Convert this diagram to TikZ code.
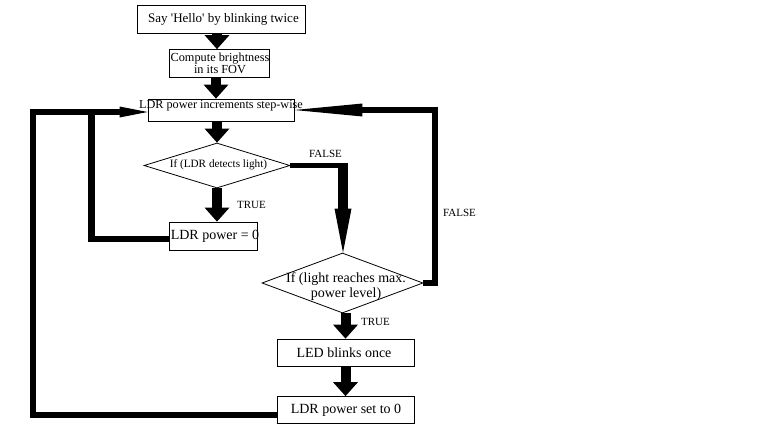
\documentclass[tikz,border=0pt]{standalone}
\usepackage{fontspec}
\setmainfont{Liberation Serif}
\usetikzlibrary{shapes.geometric,arrows.meta}
\begin{document}
\begin{tikzpicture}[x=1pt,y=-1pt,
  box/.style={draw,line width=0.8pt,inner sep=0pt,rectangle},
  dia/.style={draw,line width=0.8pt,inner sep=0pt,diamond},
  txt/.style={inner sep=0pt,align=center,font=\fontsize{13}{15}\selectfont},
  lbl/.style={inner sep=0pt,font=\fontsize{11}{13}\selectfont},
  blk/.style={line width=10pt,-{Triangle[width=25pt,length=14pt,line width=0pt]}},
  thickline/.style={line width=6pt,line join=miter}]
\fill[white] (0,0) rectangle (768,431);
\useasboundingbox (0,0) rectangle (768,431);

% boxes
\node[box,minimum width=168pt,minimum height=28pt] (b1) at (221,19) {};
\node[txt] (t1) at (223.5,19) {Say \textquotesingle Hello\textquotesingle\ by blinking twice};
\node[box,minimum width=100pt,minimum height=28pt] (b2) at (219,63.5) {};
\node[txt,font=\fontsize{12.3}{12.5}\selectfont] (t2) at (220,63.5) {Compute brightness\\in its FOV};
\node[box,minimum width=146pt,minimum height=22pt] (b3) at (221,110) {};
\node[txt,font=\fontsize{12.2}{14}\selectfont] (t3) at (221,106) {LDR power increments step-wise};
\node[dia,minimum width=146pt,minimum height=45pt] (d1) at (217,165.5) {};
\node[txt,font=\fontsize{11.2}{13}\selectfont] (t4) at (218.5,165) {If (LDR detects light)};
\node[box,minimum width=88pt,minimum height=28pt] (b4) at (213,236) {};
\node[txt,font=\fontsize{14}{16}\selectfont] (t5) at (215,236) {LDR power = 0};
\node[dia,minimum width=161pt,minimum height=60pt] (d2) at (342.5,283) {};
\node[txt,font=\fontsize{14}{15}\selectfont] (t6) at (346,287) {If (light reaches max.\\power level)};
\node[box,minimum width=137pt,minimum height=27pt] (b5) at (345.5,352.5) {};
\node[txt,font=\fontsize{14}{16}\selectfont] (t7) at (344,352.5) {LED blinks once};
\node[box,minimum width=137pt,minimum height=27pt] (b6) at (345.5,410) {};
\node[txt,font=\fontsize{14}{16}\selectfont] (t8) at (346,410) {LDR power set to 0};

% labels
\node[lbl] (f1) at (325.5,153.5) {FALSE};
\node[lbl] (tr1) at (251.5,204.5) {TRUE};
\node[lbl] (f2) at (459.5,212.5) {FALSE};
\node[lbl] (tr2) at (375.5,321.5) {TRUE};

% straight block arrows
\draw[blk] ([xshift=-4pt]b1.south) -- ([xshift=-4pt]b1.south |- b2.north);
\draw[blk] ([xshift=-3pt]b2.south) -- ([xshift=-3pt]b2.south |- b3.north);
\draw[blk] (b3.south -| d1.north) -- (d1.north);
\draw[blk] (d1.south) -- (d1.south |- b4.north);
\draw[blk] (b5.north |- d2.south) -- (b5.north);
\draw[blk] (b5.south) -- (b6.north);

% FALSE branch of first decision
\coordinate (c1) at (348,165.5);
\coordinate (c1top) at (343,163);
\draw[line width=5pt] (d1.east) -- (c1);
\draw[line width=10pt,-{Triangle[width=17pt,length=44pt,line width=0pt]}] (c1top) -- (c1top |- d2.north);

% FALSE branch of second decision
\coordinate (c3) at (435,110);
\draw[thickline,-{Triangle[width=13pt,length=68pt,line width=0pt]}] (d2.east) -- (d2.east -| c3) -- (c3) -- (b3.east);

% inner loop
\coordinate (c4) at (91.5,239);
\coordinate (c5) at (91.5,112);
\draw[thickline,line width=6.5pt,-{Triangle[width=11pt,length=28pt,line width=0pt]}] (b4.west |- c4) -- (c4) -- (c5) -- (c5 -| b3.west);

% outer loop
\coordinate (c6) at (33,414.5);
\coordinate (c7) at (33,112);
\draw[thickline] (b6.west |- c6) -- (c6) -- (c7) -- (c5);
\end{tikzpicture}
\end{document}
